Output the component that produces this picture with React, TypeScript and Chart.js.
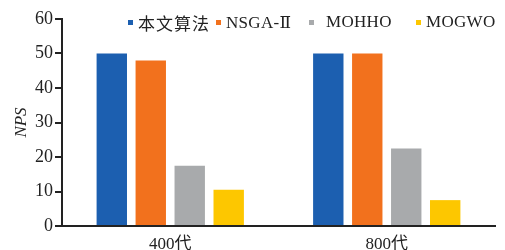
import React, { useEffect, useRef } from "react";
import { Chart, registerables } from "chart.js";

Chart.register(...registerables);

const categories = ["400代", "800代"];
const seriesNames = ["本文算法", "NSGA-Ⅱ", "MOHHO", "MOGWO"];
const seriesColors = ["#1c5fb0", "#f2711d", "#a8aaac", "#fdc700"];
const alg = [50, 50];
const nsga = [48, 50];
const mohho = [17.5, 22.5];
const mogwo = [10.5, 7.5];
const yTicks = [0, 10, 20, 30, 40, 50, 60];

const serif = "'Liberation Serif', 'DejaVu Serif', 'Noto Sans CJK SC', serif";

export default function App() {
  const ref = useRef<HTMLCanvasElement | null>(null);
  useEffect(() => {
    if (!ref.current) return;
    const values = [alg, nsga, mohho, mogwo];
    const chart = new Chart(ref.current, {
      type: "bar",
      data: {
        labels: categories,
        datasets: seriesNames.map((n, i) => ({
          label: n,
          data: values[i],
          backgroundColor: seriesColors[i],
          categoryPercentage: 0.72,
          barPercentage: 0.78,
        })),
      },
      options: {
        responsive: false,
        animation: false,
        layout: { padding: { top: 19, right: 10, left: 0, bottom: 0 } },
        plugins: { legend: { display: false }, tooltip: { enabled: false } },
        scales: {
          x: {
            grid: { display: false },
            border: { display: true, color: "#222", width: 2 },
            ticks: { color: "#222", font: { family: serif, size: 17 }, padding: 0 },
            afterFit: (s: any) => { s.height = 24; },
          },
          y: {
            min: 0,
            max: 60,
            afterBuildTicks: (s: any) => { s.ticks = yTicks.map((v) => ({ value: v })); },
            grid: { drawOnChartArea: false, drawTicks: true, tickLength: 7, color: "#222", lineWidth: 2 },
            border: { display: true, color: "#222", width: 2 },
            ticks: { color: "#222", font: { family: serif, size: 18 }, padding: 2 },
            title: {
              display: true,
              text: "NPS",
              color: "#222",
              font: { family: serif, size: 17, style: "italic" },
              padding: { top: 11, bottom: 0 },
            },
            afterFit: (s: any) => { s.width = 62; },
          },
        },
      },
    });
    return () => chart.destroy();
  }, []);

  const legendPos = [128, 216, 309, 416];
  return (
    <div style={{ position: "fixed", left: 0, top: 0, width: 505, height: 250, background: "#fff" }}>
      <canvas ref={ref} width={505} height={250} style={{ display: "block" }} />
      {seriesNames.map((n, i) => (
        <div
          key={n}
          style={{
            position: "absolute",
            left: legendPos[i],
            top: 12,
            height: 20,
            display: "flex",
            alignItems: "center",
            fontFamily: serif,
            fontSize: 17,
            color: "#222",
            whiteSpace: "nowrap",
          }}
        >
          <span style={{ width: 5, height: 5, background: seriesColors[i], marginRight: i === 2 ? 12 : 5, display: "inline-block" }} />
          <span style={{ letterSpacing: i === 0 ? 1 : 0.3 }}>{n}</span>
        </div>
      ))}
    </div>
  );
}
